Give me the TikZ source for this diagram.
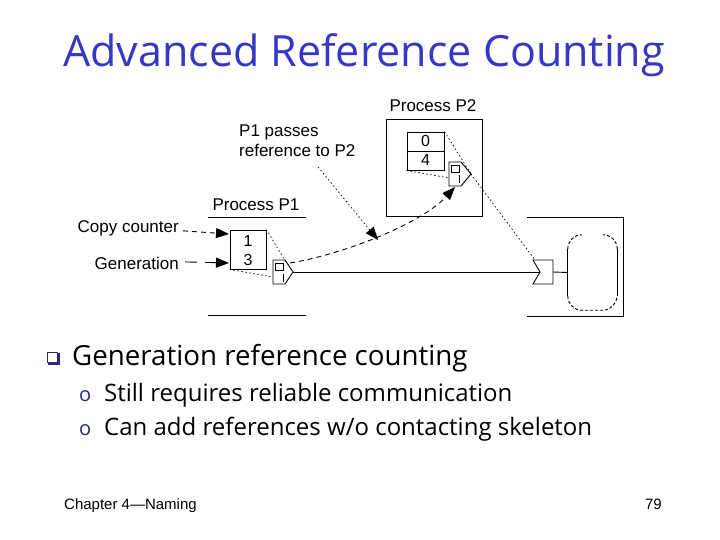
\documentclass[tikz,border=0pt]{standalone}
\usepackage{fontspec}
\setmainfont{Open Sans}
\newfontfamily\arialfont{Liberation Sans}
\usetikzlibrary{arrows.meta}
\definecolor{titleblue}{RGB}{55,55,195}
\definecolor{bulletblue}{RGB}{40,40,140}
\tikzset{
  lbl/.style={font=\arialfont\fontsize{17}{20}\selectfont, inner sep=0pt},
  digit/.style={font=\arialfont\fontsize{16}{20}\selectfont, inner sep=0pt, anchor=base},
  thinln/.style={line width=0.9pt},
  dotln/.style={line width=0.7pt, dash pattern=on 1.5pt off 2.5pt},
  dashln/.style={line width=0.9pt, dash pattern=on 5pt off 4pt},
  headtri/.style={-{Triangle[length=13pt,width=10pt]}},
  cellbox/.style={draw, line width=0.9pt, inner sep=0pt},
  bodytext/.style={inner sep=0pt, anchor=base west},
}
\begin{document}
\begin{tikzpicture}[x=1pt,y=-1pt]
\useasboundingbox (0,0) rectangle (720,540);
\fill[white] (0,0) rectangle (720,540);

% title
\node[inner sep=0pt, anchor=base, text=titleblue, font=\fontsize{43}{48}\selectfont] (title) at (364,67) {Advanced Reference Counting};

% ---------- Process P2 ----------
\node[lbl, anchor=base] (p2lbl) at (433,112) {Process P2};
\node[cellbox, minimum width=96pt, minimum height=97pt] (p2box) at (434,167.5) {};
\node[cellbox, minimum width=37pt, minimum height=38pt] (c2) at (425.5,151) {};
\draw[thinln] (c2.west |- 0,151) -- (c2.east |- 0,151);
\node[digit] (c2a) at (425.5,147) {0};
\node[digit] (c2b) at (425.5,166) {4};
% proxy in P2
\coordinate (q2a) at (449,162);
\coordinate (q2tip) at (471,174);
\coordinate (q2bot) at (455,187);
\draw[thinln] (q2a) -- (461,162) -- (q2tip) -- (461,186) -- (449,186) -- cycle;
\draw[thinln] (451,165) rectangle (459,172);
\draw[thinln] (459,175) -- (459,183);
\draw[dotln] (c2.north east) -- (q2tip);
\draw[dotln] (c2.south west) -- (449,178);

% ---------- Process P1 ----------
\node[lbl, anchor=base] (p1lbl) at (256,211) {Process P1};
\draw[thinln] (208,217) -- (306,217);
\draw[thinln] (208,315) -- (306,315);
\node[cellbox, minimum width=36pt, minimum height=39pt] (c1) at (248,249.5) {};
\node[digit] (c1a) at (248,246) {1};
\node[digit] (c1b) at (248,265) {3};
% proxy in P1
\coordinate (q1a) at (273,260);
\coordinate (q1tip) at (293,272);
\draw[thinln] (q1a) -- (285,260) -- (q1tip) -- (285,284) -- (273,284) -- cycle;
\draw[thinln] (275,263) rectangle (283,270);
\draw[thinln] (283,274) -- (283,282);
\draw[dotln] (c1.north east) -- (287,264);
\draw[dotln] (c1.south west) -- (273,277);

% labels on the left
\node[lbl, anchor=base east] (cc) at (179,233) {Copy counter};
\node[lbl, anchor=base east] (gen) at (179,269) {Generation};
\coordinate (ccend) at (229,234);
\coordinate (genend) at (229,263);
\draw[dashln, headtri] (cc.east) ++(4,2) -- (ccend);
\draw[line width=0.9pt, dash pattern=on 12pt off 8pt, headtri] (gen.east) ++(6,-1) -- (genend);

% ---------- Server process ----------
\draw[thinln] (527,217) -- (623,217) -- (623,316) -- (527,316);
\coordinate (skel) at (540,272);
\draw[thinln] (533,260) -- (553,260) -- (553,284) -- (533,284) -- (skel) -- cycle;
\coordinate (skelr) at (553,272);
\node[inner sep=0pt, minimum width=49pt, minimum height=75pt] (obj) at (592.5,272.5) {};
\draw[thinln] (obj.north west) ++(0,14) -- ([yshift=14pt]obj.south west);
\draw[thinln] (obj.north east) ++(0,14) -- ([yshift=14pt]obj.south east);
\draw[thinln, dash pattern=on 3pt off 2pt] (obj.north west) ++(0,14) arc[start angle=180, end angle=270, radius=14];
\draw[thinln, dash pattern=on 3pt off 2pt] (obj.north east) ++(0,14) arc[start angle=0, end angle=-90, radius=14];
\draw[thinln, dash pattern=on 3pt off 2pt] (obj.south west) ++(0,-14) arc[start angle=180, end angle=90, radius=14] -- ++(21,0) arc[start angle=90, end angle=0, radius=14];
\draw[thinln] (skelr) -- (obj.west);

% connectors
\draw[thinln] (q1tip) -- (skel);
\draw[dotln] (q2tip) -- (535,260);
\draw[dashln, headtri] (290,263) .. controls (340,255) and (420,225) .. (q2bot);

% P1 passes label
\node[lbl, anchor=base west] (pass1) at (239,137) {P1 passes};
\node[lbl, anchor=base west] (pass2) at (239,157) {reference to P2};
\coordinate (passend) at (378,240);
\draw[dotln, headtri] (318,167) -- (passend);

% ---------- bullets ----------
\draw[bulletblue, line width=1pt, fill=white] (47,352) rectangle (57,362);
\draw[bulletblue, line width=2pt] (48,363.5) -- (58.5,363.5) -- (58.5,353);
\node[bodytext, font=\fontsize{27.7}{32}\selectfont] (b1) at (72,365) {Generation reference counting};
\node[bodytext, text=bulletblue, font=\fontsize{20}{24}\selectfont] (o1) at (79,401) {o};
\node[bodytext, font=\fontsize{24}{28}\selectfont] (b2) at (104,401) {Still requires reliable communication};
\node[bodytext, text=bulletblue, font=\fontsize{20}{24}\selectfont] (o2) at (79,435) {o};
\node[bodytext, font=\fontsize{24}{28}\selectfont] (b3) at (104,435) {Can add references w/o contacting skeleton};

% footer
\node[bodytext, font=\arialfont\fontsize{15}{18}\selectfont] (foot) at (64,509) {Chapter 4—Naming};
\node[inner sep=0pt, anchor=base east, font=\arialfont\fontsize{15}{18}\selectfont] (pg) at (662,509) {79};
\end{tikzpicture}
\end{document}
